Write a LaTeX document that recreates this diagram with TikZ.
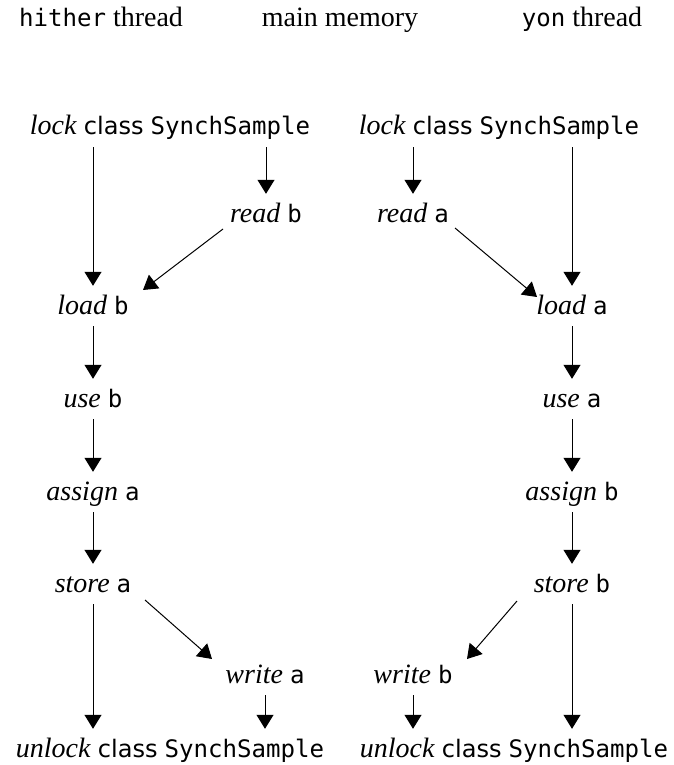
\documentclass[tikz,border=0pt]{standalone}
\usepackage{fontspec}
\setmainfont{Liberation Serif}
\newfontfamily\codefont[Scale=0.86]{DejaVu Sans Mono}
\newfontfamily\clsfont[Scale=0.86]{DejaVu Sans}
\usetikzlibrary{arrows.meta}
\newcommand{\cd}[1]{{\codefont #1}}
\newcommand{\kw}[1]{{\clsfont #1}}
\tikzset{
  lbl/.style={anchor=base, font=\fontsize{28}{32}\selectfont, text height=20pt, text depth=4pt, inner xsep=2pt, inner ysep=8pt},
  arr/.style={line width=1pt, -{Triangle[length=14pt,width=17pt]}}
}
\begin{document}
\begin{tikzpicture}[x=1pt,y=-1pt]
\useasboundingbox[fill=white] (0,0) rectangle (674,765);
% headers
\node[lbl] (hither) at (101,27) {\cd{hither} thread};
\node[lbl] (mainmem) at (340,27) {main memory};
\node[lbl] (yon) at (582,27) {\cd{yon} thread};
% left thread
\node[lbl] (lockL) at (170,135) {\textit{lock} \kw{class} \cd{SynchSample}};
\node[lbl] (readB) at (266,222) {\textit{read} \cd{b}};
\node[lbl] (loadB) at (93,314) {\textit{load} \cd{b}};
\node[lbl] (useB) at (93,407) {\textit{use} \cd{b}};
\node[lbl] (assignA) at (93,500) {\textit{assign} \cd{a}};
\node[lbl] (storeA) at (93,592) {\textit{store} \cd{a}};
\node[lbl] (writeA) at (265,683) {\textit{write} \cd{a}};
\node[lbl] (unlockL) at (170,757) {\textit{unlock} \kw{class} \cd{SynchSample}};
% right thread
\node[lbl] (lockR) at (499,135) {\textit{lock} \kw{class} \cd{SynchSample}};
\node[lbl] (readA) at (413,222) {\textit{read} \cd{a}};
\node[lbl] (loadA) at (572,314) {\textit{load} \cd{a}};
\node[lbl] (useA) at (572,407) {\textit{use} \cd{a}};
\node[lbl] (assignB) at (572,500) {\textit{assign} \cd{b}};
\node[lbl] (storeB) at (572,592) {\textit{store} \cd{b}};
\node[lbl] (writeB) at (413,683) {\textit{write} \cd{b}};
\node[lbl] (unlockR) at (514,757) {\textit{unlock} \kw{class} \cd{SynchSample}};
% left arrows
\draw[arr] (lockL.south -| loadB.north) -- (loadB.north);
\draw[arr] (lockL.south -| readB.north) -- (readB.north);
\draw[arr] ([shift={(-43,7)}]readB.base) -- ([shift={(50,-24)}]loadB.base);
\draw[arr] (loadB) -- (useB);
\draw[arr] (useB) -- (assignA);
\draw[arr] (assignA) -- (storeA);
\draw[arr] (storeA.south) -- (storeA.south |- unlockL.north);
\draw[arr] ([shift={(52,8)}]storeA.base) -- ([shift={(-53,-24)}]writeA.base);
\draw[arr] (writeA.south) -- (writeA.south |- unlockL.north);
% right arrows
\draw[arr] (lockR.south -| readA.north) -- (readA.north);
\draw[arr] (lockR.south -| loadA.north) -- (loadA.north);
\draw[arr] ([shift={(42,6)}]readA.base) -- ([shift={(-35,-17)}]loadA.base);
\draw[arr] (loadA) -- (useA);
\draw[arr] (useA) -- (assignB);
\draw[arr] (assignB) -- (storeB);
\draw[arr] (storeB.south) -- (storeB.south |- unlockR.north);
\draw[arr] ([shift={(-55,9)}]storeB.base) -- ([shift={(54,-24)}]writeB.base);
\draw[arr] (writeB.south) -- (writeB.south |- unlockR.north);
\end{tikzpicture}
\end{document}
